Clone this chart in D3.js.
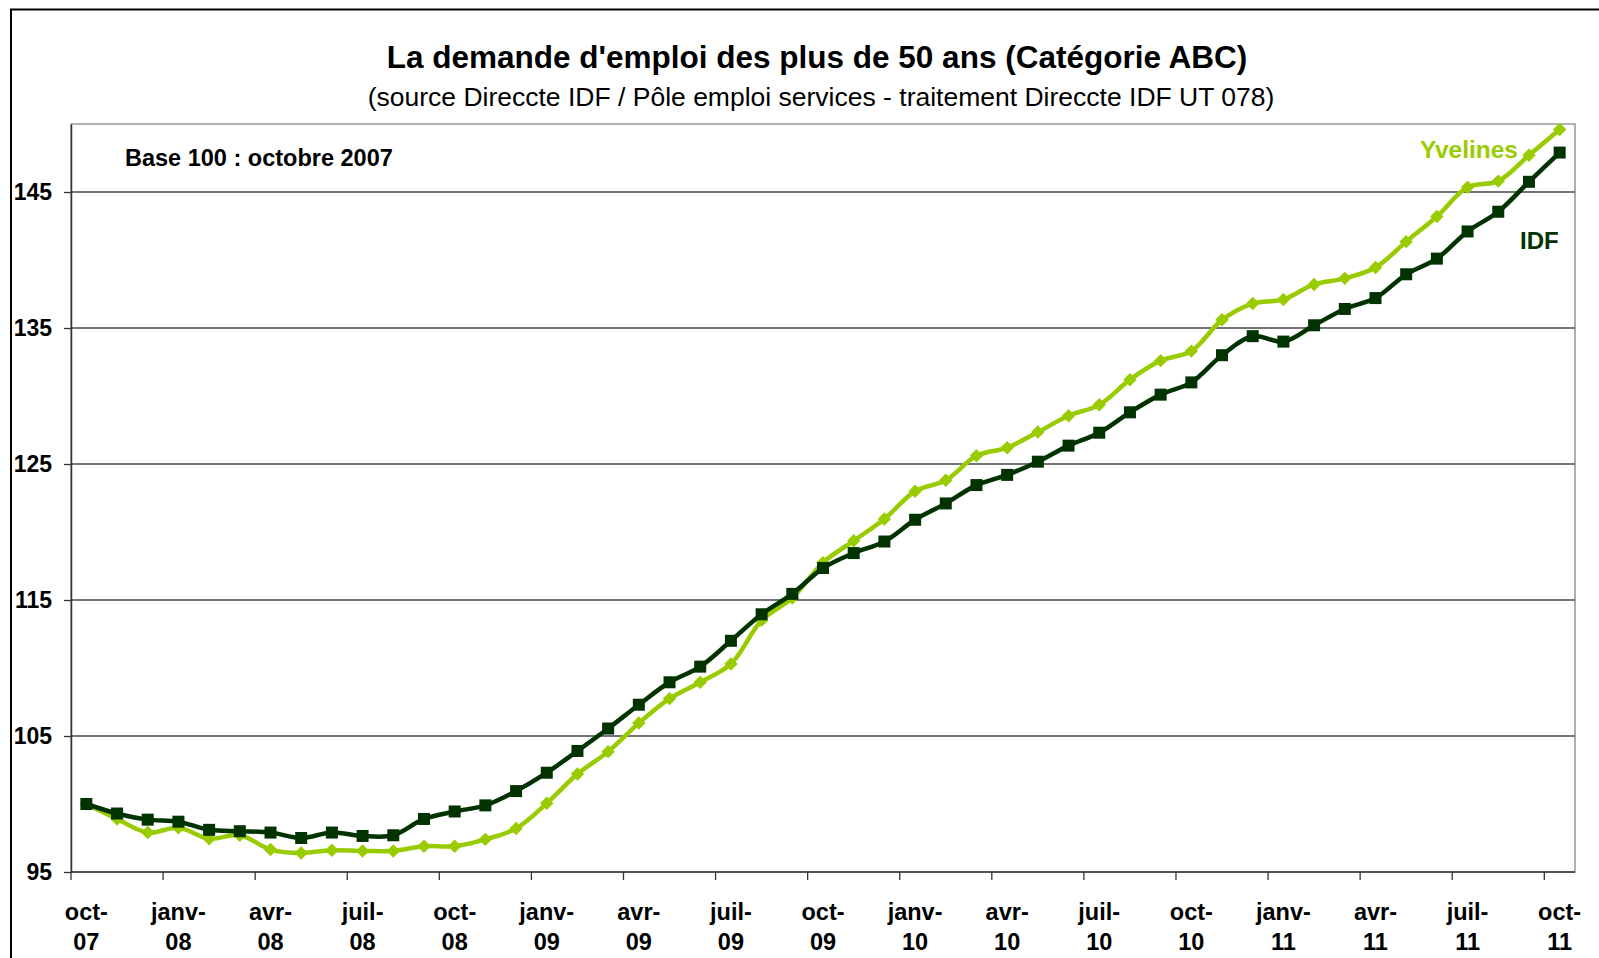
<!DOCTYPE html>
<html>
<head>
<meta charset="utf-8">
<script src="https://cdn.jsdelivr.net/npm/d3@7"></script>
<style>
    body { margin: 0; background: #fff; }
    svg { display: block; font-family: "Liberation Sans", Arial, sans-serif; }
</style>
</head>
<body>
<svg id="chart" width="1599" height="958"></svg>
<script>
// months from oct-07 to oct-11
var monthNames = ["oct", "nov", "déc", "janv", "févr", "mars", "avr", "mai", "juin", "juil", "août", "sept"];
var startYear = 7;
var months = d3.range(49).map(function (i) {
    var y = startYear + Math.floor((i + 9) / 12);
    return monthNames[i % 12] + "-" + (y < 10 ? "0" + y : "" + y);
});

var idf = [100, 99.3, 98.85, 98.7, 98.1, 98.0, 97.9, 97.5, 97.9, 97.65, 97.7, 98.9,
    99.45, 99.9, 100.95, 102.3, 103.9, 105.55, 107.3, 108.95, 110.1, 112.0, 113.95, 115.45,
    117.35, 118.45, 119.3, 120.9, 122.1, 123.45, 124.2, 125.17, 126.35, 127.3, 128.8, 130.1,
    131.0, 133.0, 134.4, 134.0, 135.2, 136.4, 137.2, 138.95, 140.1, 142.1, 143.55, 145.75,
    147.9];

var yvelines = [100, 98.9, 97.9, 98.25, 97.45, 97.7, 96.65, 96.4, 96.6, 96.55, 96.55, 96.9,
    96.9, 97.4, 98.2, 100.05, 102.2, 103.85, 105.95, 107.75, 108.95, 110.3, 113.5, 115.15,
    117.75, 119.35, 120.95, 123.0, 123.8, 125.6, 126.2, 127.35, 128.55, 129.35, 131.2, 132.6,
    133.3, 135.6, 136.8, 137.1, 138.2, 138.65, 139.45, 141.35, 143.2, 145.35, 145.8, 147.7,
    149.6];

var yTicks = [95, 105, 115, 125, 135, 145];

var dark = "#003300", light = "#99cc00";

var svg = d3.select("#chart");
var plotLeft = 71, plotRight = 1575, plotTop = 124, plotBottom = 872;

// outer frame (only top / left visible)
svg.append("path")
    .attr("d", "M11,958 V9.5 H1599")
    .attr("fill", "none").attr("stroke", "#000").attr("stroke-width", 2);

svg.append("text")
    .attr("x", 817).attr("y", 68)
    .attr("text-anchor", "middle")
    .attr("font-size", 31.5).attr("font-weight", "bold")
    .text("La demande d'emploi des plus de 50 ans (Catégorie ABC)");

svg.append("text")
    .attr("x", 821).attr("y", 106)
    .attr("text-anchor", "middle")
    .attr("font-size", 26.5)
    .text("(source Direccte IDF / Pôle emploi services - traitement Direccte IDF UT 078)");

var x = d3.scaleBand().domain(months).range([plotLeft, plotRight]);
var y = d3.scaleLinear().domain([95, 150]).range([plotBottom, plotTop]);

// plot area border
svg.append("rect")
    .attr("x", plotLeft).attr("y", plotTop)
    .attr("width", plotRight - plotLeft).attr("height", plotBottom - plotTop)
    .attr("fill", "none").attr("stroke", "#999").attr("stroke-width", 1.5);

// gridlines
svg.append("g")
    .selectAll("line")
    .data(yTicks.slice(1))
    .enter().append("line")
    .attr("x1", plotLeft).attr("x2", plotRight)
    .attr("y1", function (d) { return y(d); })
    .attr("y2", function (d) { return y(d); })
    .attr("stroke", "#444").attr("stroke-width", 1.3);

// y axis
var yAxis = svg.append("g")
    .attr("transform", "translate(" + plotLeft + ",0)")
    .call(d3.axisLeft(y).tickValues(yTicks).tickSize(7).tickSizeOuter(0).tickPadding(12));
yAxis.select(".domain").attr("stroke", "#333").attr("stroke-width", 1.5);
yAxis.selectAll(".tick line").attr("stroke", "#333").attr("stroke-width", 1.3);
yAxis.selectAll("text")
    .attr("font-size", 23).attr("font-weight", "bold")
    .attr("font-family", "Liberation Sans, Arial, sans-serif")
    .attr("fill", "#000");

// x axis: ticks at category boundaries every 3 months
var xg = svg.append("g");
xg.append("line")
    .attr("x1", plotLeft).attr("x2", plotRight)
    .attr("y1", plotBottom).attr("y2", plotBottom)
    .attr("stroke", "#333").attr("stroke-width", 1.5);

var shown = months.filter(function (d, i) { return i % 3 === 0; });
xg.selectAll(".xtick")
    .data(shown)
    .enter().append("line")
    .attr("class", "xtick")
    .attr("x1", function (d) { return x(d); })
    .attr("x2", function (d) { return x(d); })
    .attr("y1", plotBottom).attr("y2", plotBottom + 8)
    .attr("stroke", "#333").attr("stroke-width", 1.3);

var lab = xg.selectAll(".xlab")
    .data(shown)
    .enter().append("text")
    .attr("class", "xlab")
    .attr("text-anchor", "middle")
    .attr("font-size", 23.5).attr("font-weight", "bold");
lab.append("tspan")
    .attr("x", function (d) { return x(d) + x.bandwidth() / 2; })
    .attr("y", 920)
    .text(function (d) { return d.split("-")[0] + "-"; });
lab.append("tspan")
    .attr("x", function (d) { return x(d) + x.bandwidth() / 2; })
    .attr("y", 950)
    .text(function (d) { return d.split("-")[1]; });

svg.append("text")
    .attr("x", 125).attr("y", 166)
    .attr("font-size", 23.5).attr("font-weight", "bold")
    .text("Base 100 : octobre 2007");

// series
function cx(i) { return x(months[i]) + x.bandwidth() / 2; }

var line = d3.line()
    .x(function (d, i) { return cx(i); })
    .y(function (d) { return y(d); })
    .curve(d3.curveCatmullRom);

svg.append("path")
    .datum(yvelines)
    .attr("d", line)
    .attr("fill", "none").attr("stroke", light).attr("stroke-width", 4.5);

svg.append("g")
    .selectAll("path")
    .data(yvelines)
    .enter().append("path")
    .attr("d", d3.symbol().type(d3.symbolDiamond2).size(115))
    .attr("transform", function (d, i) { return "translate(" + cx(i) + "," + y(d) + ")"; })
    .attr("fill", light);

svg.append("path")
    .datum(idf)
    .attr("d", line)
    .attr("fill", "none").attr("stroke", dark).attr("stroke-width", 4.5);

svg.append("g")
    .selectAll("rect")
    .data(idf)
    .enter().append("rect")
    .attr("x", function (d, i) { return cx(i) - 6; })
    .attr("y", function (d) { return y(d) - 6; })
    .attr("width", 12).attr("height", 12)
    .attr("fill", dark);

svg.append("text")
    .attr("x", 1518).attr("y", 158)
    .attr("text-anchor", "end")
    .attr("font-size", 24.5).attr("font-weight", "bold")
    .attr("fill", light)
    .text("Yvelines");

svg.append("text")
    .attr("x", 1520).attr("y", 249)
    .attr("font-size", 24).attr("font-weight", "bold")
    .attr("fill", dark)
    .text("IDF");
</script>
</body>
</html>
